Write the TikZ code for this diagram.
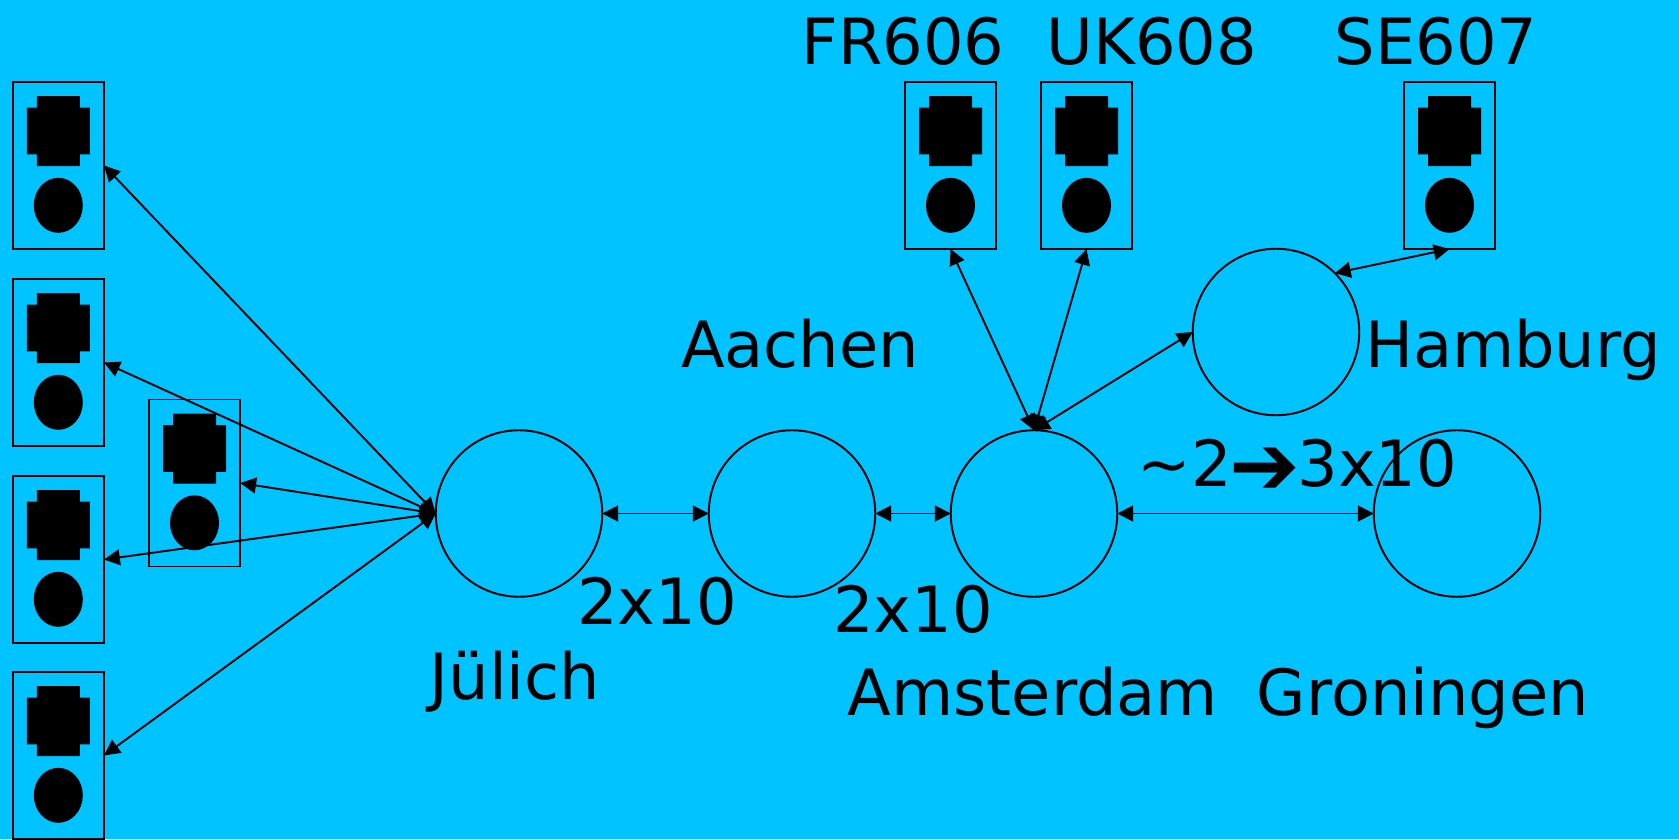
\documentclass[tikz,border=0pt]{standalone}
\usepackage{fontspec}
\setmainfont{DejaVu Sans}
\usetikzlibrary{arrows.meta}
\definecolor{skyback}{HTML}{00C3FF}
\tikzset{
  site/.style={draw, circle, minimum size=1.665cm, inner sep=0, outer sep=0},
  station/.style={draw, rectangle, minimum width=.915cm, minimum height=1.67cm, inner sep=0, outer sep=0},
  place/.style={anchor=base, inner sep=0, font=\fontsize{18.15}{18}\selectfont},
  link/.style={<->, >={Triangle[length=4.5pt,width=4.5pt]}}
}
\begin{document}
\begin{tikzpicture}[line width=.55pt]
\useasboundingbox (0,0) rectangle (16.79,8.39);
\fill[skyback] (0,0) rectangle (16.79,8.39);
% stations
\foreach \name/\x/\y in {sa/.583/6.735, sb/.583/4.765, sc/.583/2.795, sd/.583/.835, se/1.945/3.56, fr/9.505/6.735, uk/10.865/6.735, de/14.495/6.735}{
  \node[station] (\name) at (\x,\y) {};
  \begin{scope}[shift={(\name)}]
    \fill (-.215,.695) -- (.215,.695) -- (.215,.578) -- (.315,.578) -- (.315,.112) -- (.215,.112) -- (.215,-.005) -- (-.215,-.005) -- (-.215,.112) -- (-.315,.112) -- (-.315,.578) -- (-.215,.578) -- cycle;
    \fill (0,-.398) ellipse (.245 and .275);
  \end{scope}
}
% sites
\node[site] (julich) at (5.19,3.255) {};
\node[site] (aachen) at (7.92,3.255) {};
\node[site] (amsterdam) at (10.34,3.255) {};
\node[site] (groningen) at (14.57,3.255) {};
\node[site] (hamburg) at (12.76,5.07) {};
% links
\foreach \name in {sa,sb,sc,sd,se}
  \draw[link] (\name.east) -- (julich.west);
\draw[link] (julich) -- (aachen);
\draw[link] (aachen) -- (amsterdam);
\draw[link] (amsterdam) -- (groningen);
\draw[link] (fr.south) -- (amsterdam.north);
\draw[link] (uk.south) -- (amsterdam.north);
\draw[link] (hamburg.west) -- (amsterdam.north);
\draw[link] (hamburg.north east) -- (de.south);
% labels
\node[place] (frlabel) at (9.03,7.75) {FR606};
\node[place] (uklabel) at (11.52,7.75) {UK608};
\node[place] (selabel) at (14.36,7.75) {SE607};
\node[place] (aachenlabel) at (8.0,4.72) {Aachen};
\node[place] (hamburglabel) at (15.13,4.72) {Hamburg};
\node[place] (julichlabel) at (5.15,1.40) {Jülich};
\node[place] (amsterdamlabel) at (10.33,1.24) {Amsterdam};
\node[place] (groningenlabel) at (14.23,1.24) {Groningen};
\node[place] (ratea) at (6.57,2.15) {2x10};
\node[place] (rateb) at (9.13,2.07) {2x10};
\node[place] (ratec) at (12.975,3.53) {\char`\~2\kern-.7pt\raisebox{-2.4pt}{\fontsize{24}{24}\selectfont ➔}\kern-.7pt 3x10};
\end{tikzpicture}
\end{document}
